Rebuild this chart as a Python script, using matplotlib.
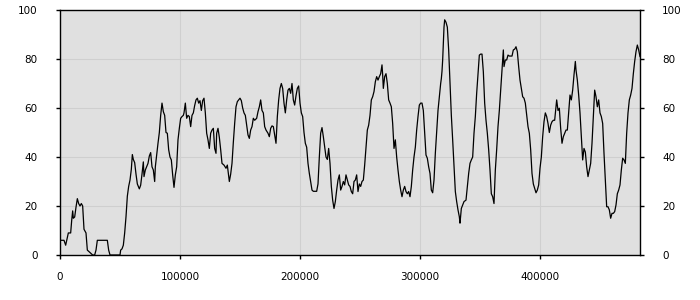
import matplotlib
matplotlib.use("Agg")
import matplotlib.pyplot as plt

x_vals = [
    0, 3333, 4722, 6944, 8889, 9722, 10556, 11111, 12222, 13333, 14444, 15556, 16667, 17778, 18889,
    20000, 21667, 22778, 25000, 27222, 28889, 30000, 31111, 33333, 39444, 40556, 41667, 44444, 50000,
    50556, 51667, 52778, 53889, 55000, 56111, 57222, 58333, 59444, 60278, 61111, 62222, 63333, 64444,
    66111, 67222, 68333, 69444, 70000, 71111, 72222, 73333, 74444, 75556, 76667, 77778, 78889, 79444,
    80556, 81667, 82778, 83889, 85000, 86111, 87222, 88333, 89444, 90556, 91667, 92778, 93889, 95000,
    96111, 97222, 98333, 99444, 100556, 101667, 102778, 103333, 104444, 105556, 106667, 107778, 108889,
    110000, 111111, 112222, 113333, 114444, 115556, 116667, 117778, 118889, 120000, 121111, 122222,
    123333, 124444, 125556, 126667, 127778, 128889, 130000, 130556, 131667, 132778, 133889, 135000,
    136667, 138333, 139444, 140556, 141111, 142222, 143333, 144444, 145556, 146667, 147778, 148889,
    150000,
    151111, 152222, 153333, 154444, 155556, 156667, 157778, 158889, 160000, 161111, 162222, 163889,
    165000, 166111, 167222, 168333, 169444, 170556, 171667, 173333, 174444, 175556, 176667, 177778,
    178889, 180000, 181111, 182222, 183333, 184444, 185556, 186667, 187778, 188889, 190000, 191111,
    192222, 193333, 194444, 195556, 196667, 197778, 198889, 200000, 201111, 202222, 203333, 204444,
    205556, 206667, 207778, 208889, 210000, 211111, 212778, 213889, 215000, 216111, 217222, 218333,
    219444, 220556, 221667, 222778, 223889, 225000, 226111, 227222, 228333, 229444, 230556, 231667,
    232778, 233889, 235000, 236111, 237222, 238333, 239444, 240556, 241667, 242778, 243889, 245000,
    246111, 247222, 248333, 249444, 250556, 251667, 252778, 253889, 255000, 256111, 257222, 258333,
    259444, 260556, 261667, 262778, 263889, 265000, 266111, 267222, 268333, 268889, 269444, 270556,
    271667, 272778, 273889, 275000, 276111, 277222, 278333, 279444, 280556, 281667, 282778, 283889,
    285000, 286111, 287222, 288333, 289444, 290556, 291667, 292778, 293889, 295000, 296111, 297222,
    298333, 299444, 300556, 301667, 302778, 303889, 305000, 306111, 307222, 308333, 309444, 310556,
    311667, 312778, 313889, 315000, 316111, 317222, 317778, 318333, 318889, 319444, 320000, 320556,
    321667, 322778, 323889, 325000, 326111, 327222, 328333, 329444, 330556, 331667, 332778, 333333,
    334444, 335556, 336667, 338333, 339444, 340556, 341667, 342778, 343889, 345000, 346111, 347222,
    348333, 349444, 350556, 351667, 352778, 353889, 355000, 356111, 357222, 358333, 359444, 360556,
    361667, 362778, 363889, 365000, 366111, 367222, 368333, 369444, 370000, 371111, 372222, 373333,
    374444, 375556, 376667, 377778, 378889, 380000, 381111, 382222, 383333, 384444, 385556, 386667,
    387778, 388889, 390000, 391111, 392222, 393333, 394444, 395556, 396667, 397778, 398889, 400000,
    401111, 402222, 403333, 404444, 405556, 406667, 407778, 408889, 410000, 411111, 412222, 413333,
    413889, 415000, 416111, 417222, 418333, 419444, 420556, 421667, 422778, 423889, 425000, 426111,
    427222, 428333, 429444, 430000, 431111, 432222, 433333, 434444, 435556, 436667, 437778, 438889,
    440000, 441111, 442222, 443333, 444444, 445556, 446667, 447778, 448889, 450000, 451111, 452222,
    453333, 454444, 455556, 456667, 457778, 458889, 460000, 461111, 462222, 463333, 464444, 465556,
    466667, 467778, 468889, 470000, 471111, 472222, 473333, 474444, 475556, 476667, 477778, 478889,
    480000, 481111, 482222, 483333,
]

y_vals = [
    6, 6, 4, 9, 9, 14, 18, 15, 15.5, 19.5, 23, 21, 20, 21, 20,
    10.5, 9, 2, 1, 0, 0, 2, 6, 6, 6, 2, 0, 0, 0,
    2, 2.5, 4, 9, 15.6, 24, 28, 30.6, 35, 41, 39, 37.7, 33, 29,
    27, 28.5, 33, 38, 32, 34.7, 36, 37.4, 40.4, 41.8, 36, 34.7, 30, 36,
    41, 45.6, 50, 57, 62, 58.5, 57, 50, 49.7, 43, 40, 38.8, 32.7, 27.6,
    32.7, 36, 47, 51.7, 55.8, 56.5, 57, 58, 62, 55.8, 57, 56.5, 52.4,
    57, 58, 61, 63.3, 64, 62, 63, 59, 63, 64, 58, 49.7,
    47, 43.5, 49.7, 51, 51.7, 43.5, 41.5, 49.7, 51.7, 48, 43, 37.4,
    36.7, 35.4, 36.7, 32, 30, 33, 37.4, 46, 53.7, 60.5, 62.6, 63.3,
    64,
    63, 60, 58, 57, 53, 49, 47.6, 51, 52.4, 55.8, 55, 55.8,
    58.5, 60.5, 63.3, 59, 58, 52.4, 51, 49.7, 48.3, 51.7, 52.7, 52.4,
    49, 45.6, 56.5, 63.3, 68, 70, 68, 62, 58, 63.3, 67.3, 68,
    66, 70, 63.3, 61.2, 65, 68, 69, 62, 58, 56.5, 50, 45.6,
    44, 37.4, 33.3, 30, 26.5, 26, 26, 26, 29, 40, 49.7, 52,
    48.3, 44, 40, 39, 43.5, 37.4, 28, 22.4, 19, 21.8, 26.5, 30.6,
    32.7, 26.5, 28, 30, 28.6, 32.7, 30.6, 28.6, 28, 25.9, 25, 30,
    30.6, 32.7, 25.9, 29, 28, 30, 30.6, 36.7, 44, 51, 53, 57,
    63.3, 64.6, 66.7, 70.7, 72.8, 71.4, 72.8, 74, 77.6, 73.5, 68, 72.8,
    74, 70, 63.3, 62, 60.5, 53.7, 43.5, 47, 40, 34.7, 30, 26.5,
    23.8, 26.5, 28, 25.9, 25, 25.9, 23.8, 28, 34.7, 40, 44, 51,
    56.5, 61.2, 62, 62, 59, 49.7, 40.8, 39.5, 36, 33.3, 26.5, 25.4,
    30.6, 41.5, 50, 59, 64.6, 70, 72, 75, 79.6, 86.4, 93, 96,
    95, 93, 83.7, 70, 57, 47, 36, 25.9, 21.8, 18.4, 15.6, 13,
    19, 20.4, 21.8, 22.4, 28, 33.3, 37.4, 38.8, 40, 49.7, 56.5, 66,
    74, 81.6, 82, 82, 74.8, 62, 55, 49.7, 43, 34.7, 25, 23.8,
    21, 34.7, 43, 52.4, 59, 67.3, 75.5, 83.7, 76.9, 79.6, 79.6, 81.6,
    81.2, 81.2, 81.2, 83.7, 84, 85, 83, 76.9, 71.4, 68, 64.6, 64,
    62, 57, 52.4, 49.7, 43, 33.3, 29, 27.2, 25.4, 26.5, 28.6, 35.4,
    40, 48.3, 54.4, 58, 56.5, 53.7, 50, 53, 54.4, 55, 55, 60.5,
    63.3, 59, 59.9, 51.7, 45.6, 48.3, 49.7, 51, 51, 58, 65.3, 63.3,
    67.3, 73.5, 79, 75.5, 71.4, 65.3, 58, 48.3, 38.8, 43.5, 42, 36,
    32, 34.7, 37.4, 45.6, 56.5, 67.3, 64.6, 60.5, 63.3, 58, 56.5, 53.7,
    41.5, 30.6, 19.7, 19.7, 18.4, 15, 17, 17, 17.7, 20.4, 25, 26.5,
    28.6, 34.7, 39.5, 38.8, 37.4, 49.7, 58, 63.3, 65.3, 68, 74, 79,
    83, 85.7, 83.7, 81,
]

y_ticks = [0, 20, 40, 60, 80, 100]
x_ticks = [0, 100000, 200000, 300000, 400000]

fig = plt.figure(figsize=(7, 3), dpi=100)
fig.patch.set_facecolor("white")
ax = fig.add_axes([60 / 700, 45 / 300, 580 / 700, 245 / 300])
ax.set_facecolor("#e0e0e0")
ax.plot(x_vals, y_vals, color="black", linewidth=0.9)
ax.set_xlim(0, 483333)
ax.set_ylim(0, 100)
ax.set_xticks(x_ticks)
ax.set_xticklabels([str(t) for t in x_ticks])
ax.set_yticks(y_ticks)
ax.set_yticklabels([str(t) for t in y_ticks])
ax.grid(True, color="#cfcfcf", linewidth=0.8)
ax.set_axisbelow(True)
for s in ax.spines.values():
    s.set_color("black")
    s.set_linewidth(1.0)
ax.tick_params(axis="both", direction="out", length=3, width=1, labelsize=7.5, colors="black")
ax.tick_params(axis="y", left=True, right=True, labelleft=True, labelright=True, pad=13)
ax.tick_params(axis="x", pad=9)

fig.savefig("out.png", dpi=100)
